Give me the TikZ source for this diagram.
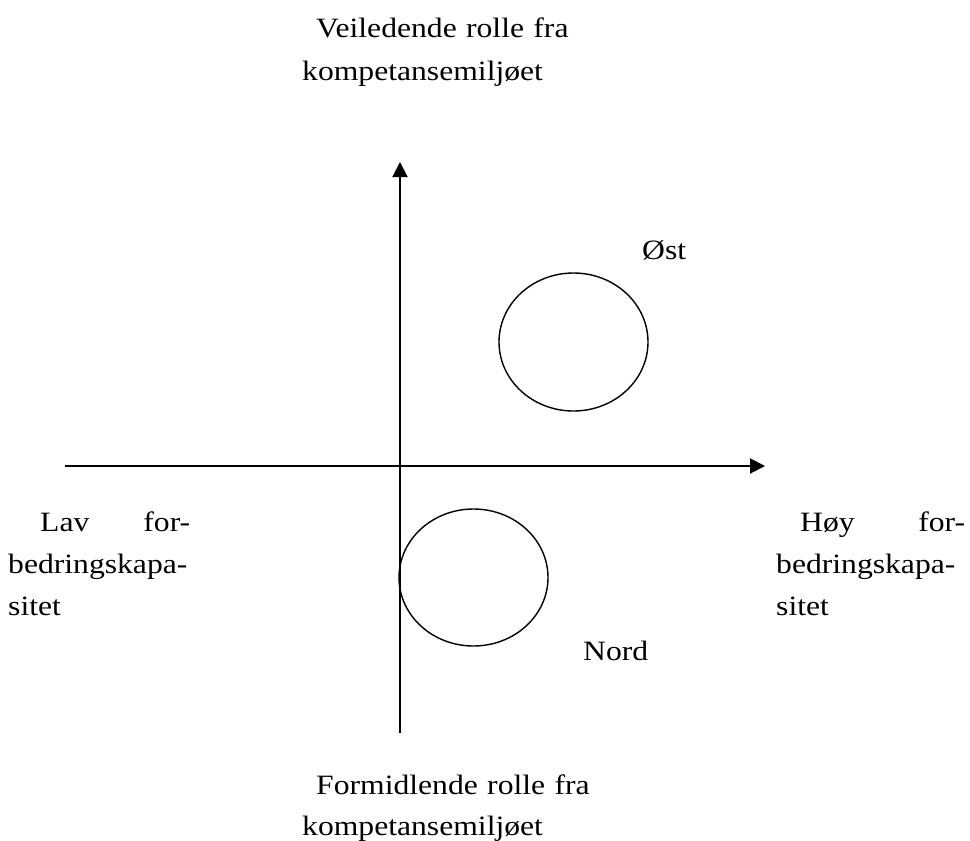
\documentclass[tikz,border=0pt]{standalone}
\usepackage{fontspec}
\setmainfont{Liberation Serif}[FakeStretch=1.13]
\usetikzlibrary{arrows.meta,shapes.geometric}
\newcommand{\jline}[2]{\makebox[#1][l]{#2}}

\begin{document}
\begin{tikzpicture}[x=1pt, y=-1pt, font=\fontsize{28}{42}\selectfont,
  axis/.style={line width=2pt, -{Triangle[length=15pt, width=15pt]}},
  region/.style={draw, ellipse, line width=1.4pt, inner sep=0pt},
  lbl/.style={inner sep=0pt, anchor=base west, text width=320pt, align=left}]
\useasboundingbox (0,0) rectangle (970,841);
% axes
\coordinate (xstart) at (65,466);
\coordinate (xend) at (765,466);
\coordinate (ystart) at (400,733);
\coordinate (yend) at (400,162);
\draw[axis] (xstart) -- (xend);
\draw[axis] (ystart) -- (yend);
% regions
\node[region, minimum width=149pt, minimum height=138pt] (oest) at (573.5,342) {};
\node[region, minimum width=149pt, minimum height=137pt] (nord) at (473.5,577.5) {};
\node[lbl, text width=] (oestlbl) at (642,259) {Øst};
\node[lbl, text width=] (nordlbl) at (583,660) {Nord};
% axis labels
\node[lbl, font=\fontsize{28}{43}\selectfont] (veil) at (302,37)
  {\hspace*{14pt}Veiledende rolle fra\\kompetansemiljøet};
\node[lbl, font=\fontsize{28}{41}\selectfont] (form) at (302,794)
  {\jline{268pt}{\hspace*{14pt}Formidlende\hfill\ rolle\hfill\ fra}\\kompetansemiljøet};
\node[lbl] (lav) at (8,531)
  {\jline{182pt}{\hspace*{32pt}Lav\hfill for-}\\bedringskapa-\\sitet};
\node[lbl] (hoy) at (776,531)
  {\jline{189pt}{\hspace*{24pt}Høy\hfill for-}\\bedringskapa-\\sitet};
\end{tikzpicture}
\end{document}
